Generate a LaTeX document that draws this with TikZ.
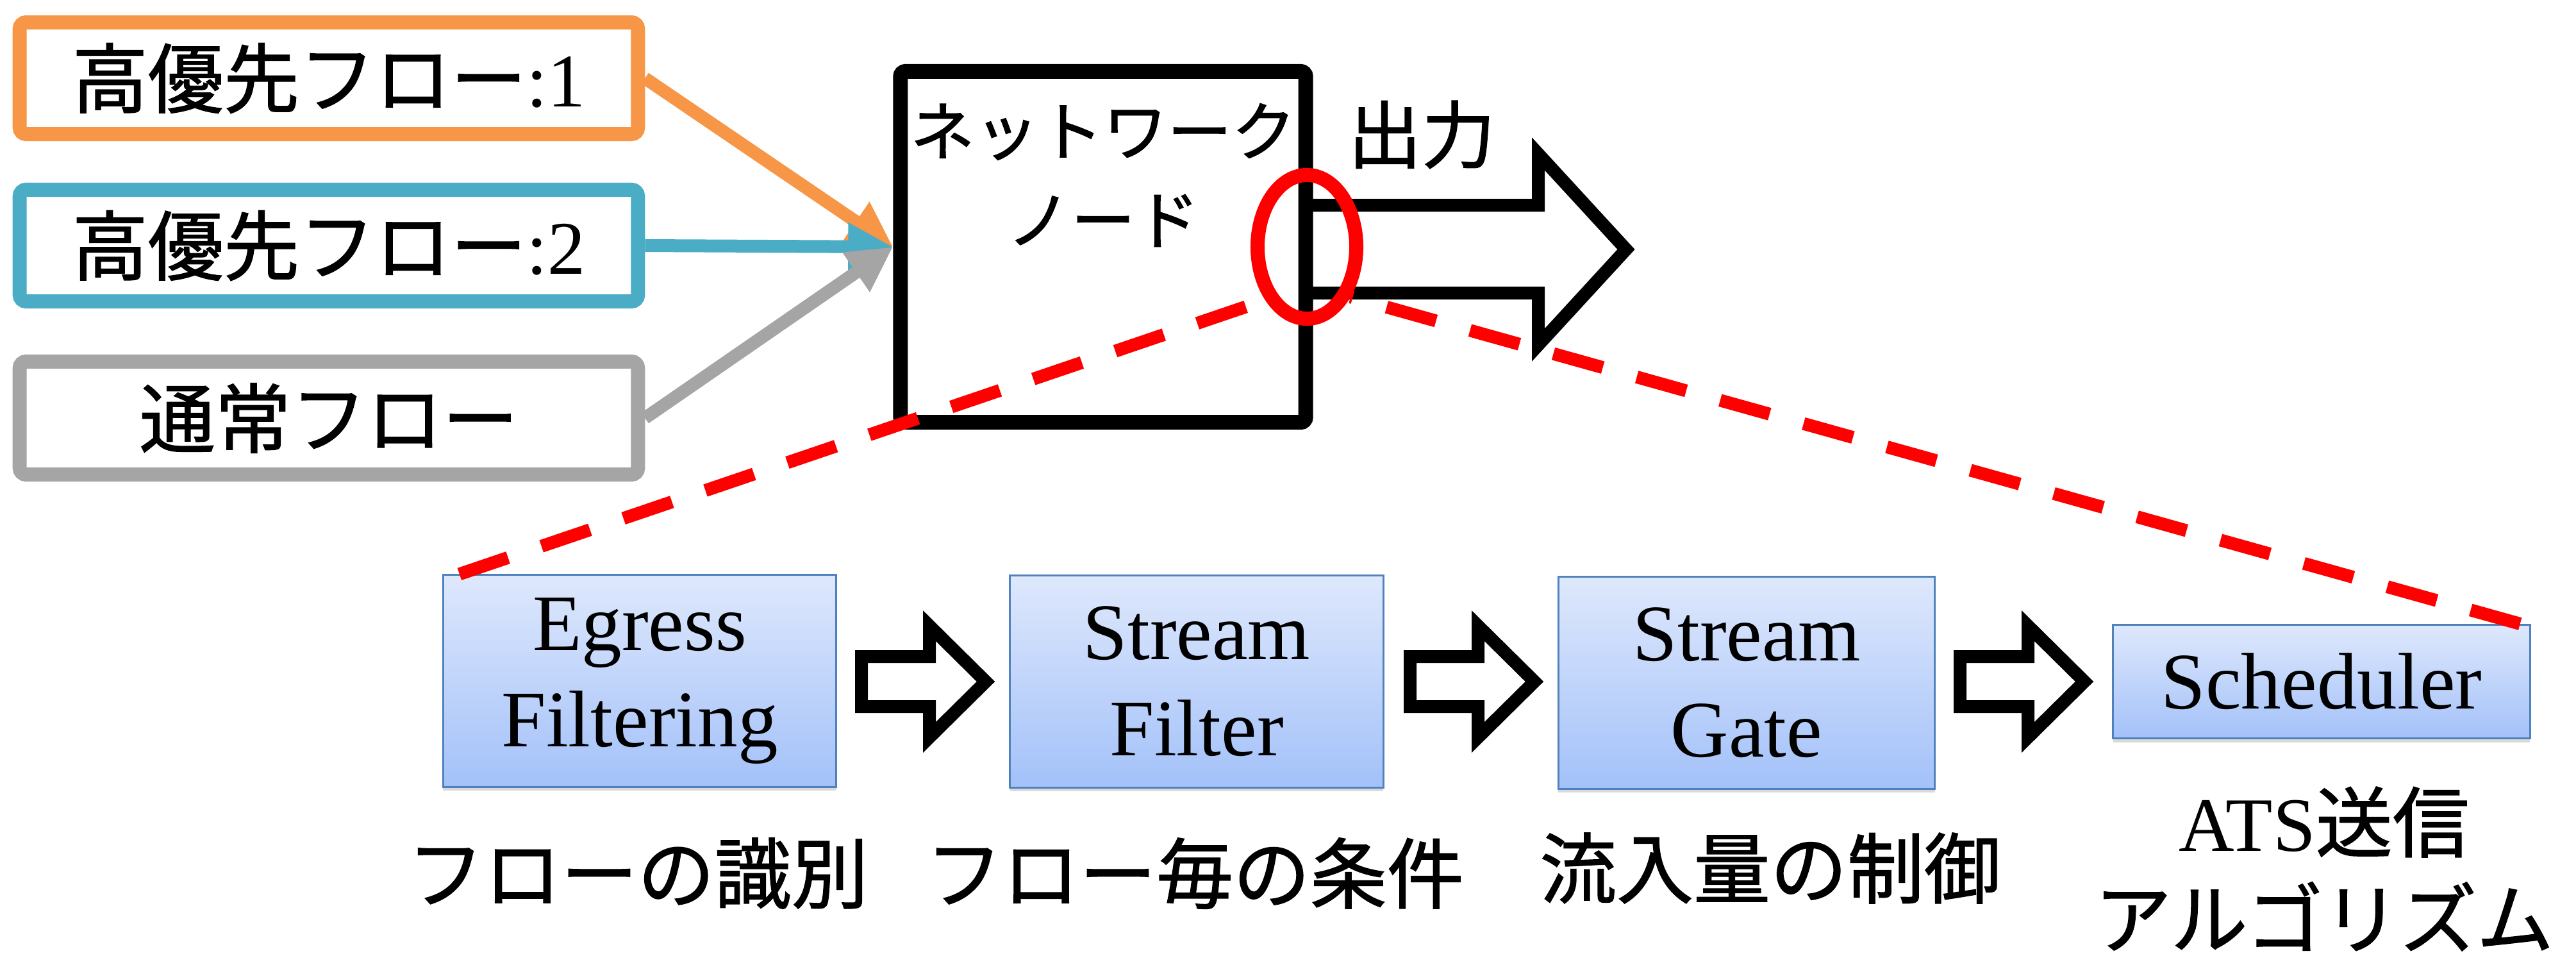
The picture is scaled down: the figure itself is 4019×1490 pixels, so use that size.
\documentclass[tikz,border=0pt]{standalone}
\usepackage{fontspec}
\setmainfont{Liberation Serif}
\newfontfamily\jp{Noto Sans CJK JP}[FakeBold=1.2]
\usetikzlibrary{arrows.meta,shapes.geometric,shadows}

\definecolor{floworange}{HTML}{F79646}
\definecolor{flowblue}{HTML}{4BACC6}
\definecolor{flowgray}{HTML}{A5A5A5}
\definecolor{stagetop}{RGB}{222,232,252}
\definecolor{stagebottom}{RGB}{163,193,249}
\definecolor{stageline}{RGB}{79,129,189}

\newcommand{\flowfont}{\jp\fontsize{33.6}{40}\selectfont}
\newcommand{\netfont}{\jp\fontsize{28.5}{39.3}\selectfont}
\newcommand{\outfont}{\jp\fontsize{32.7}{39}\selectfont}
\newcommand{\stagefont}{\fontsize{35.6}{42.7}\selectfont}
\newcommand{\capfont}{\jp\fontsize{34.1}{42.7}\selectfont}

\begin{document}
\begin{tikzpicture}[x=0.01cm, y=-0.01cm,
  flowbox/.style={draw, line width=0.22cm, rounded corners=0.1cm, minimum width=9.64cm, minimum height=1.74cm, inner sep=0pt, font=\flowfont},
  flowarrow/.style={line width=0.2cm, -{Triangle[length=0.7cm, width=0.7cm]}},
  stagebox/.style={draw=stageline, line width=0.03cm, top color=stagetop, bottom color=stagebottom, minimum height=3.3cm, inner sep=0pt, align=center, font=\stagefont, drop shadow={opacity=0.3, shadow xshift=0cm, shadow yshift=-0.06cm}},
  caption/.style={font=\capfont, align=center},
  hollow/.style={line width=0.2cm, line join=miter},
  zoomline/.style={red, line width=0.2cm, dash pattern=on 0.8cm off 0.55cm}]
\useasboundingbox (0,0) rectangle (4019,1490);

% flows
\node[flowbox, draw=floworange] (high1) at (513,122) {高優先フロー\textrm{:1}};
\node[flowbox, draw=flowblue] (high2) at (513,383) {高優先フロー\textrm{:2}};
\node[flowbox, draw=flowgray, minimum height=1.76cm] (normal) at (513,652) {通常フロー};

% network node
\node[draw, line width=0.23cm, rounded corners=0.08cm, minimum width=6.32cm, minimum height=5.47cm] (net) at (1721,385) {};
\node[font=\netfont, align=center] (netname) at (1721,273) {ネットワーク\\ノード};
\node[font=\outfont] (outlabel) at (2218,210) {出力};
\draw[hollow] (2037,320) -- (2400,320) -- (2400,240) -- (2537,389) -- (2400,538) -- (2400,457) -- (2037,457);

\draw[flowarrow, floworange] (high1.east) -- (net.west);
\draw[flowarrow, flowblue] (high2.east) -- (net.west);
\draw[flowarrow, flowgray] (normal.east) -- (net.west);

% stages
\node[stagebox, minimum width=6.13cm] (egress) at (998,1062) {Egress\\Filtering};
\node[stagebox, minimum width=5.82cm] (sfilter) at (1867,1063) {Stream\\Filter};
\node[stagebox, minimum width=5.87cm] (sgate) at (2725,1065) {Stream\\Gate};
\node[stagebox, minimum width=6.5cm, minimum height=1.77cm] (sched) at (3622,1063) {Scheduler};

\foreach \ax in {1344,2200,3058}
  \draw[hollow] (\ax,1024) -- (\ax+106,1024) -- (\ax+106,976) -- (\ax+194,1063) -- (\ax+106,1150) -- (\ax+106,1102) -- (\ax,1102) -- cycle;

\node[caption] (egresscap) at (995,1362) {フローの識別};
\node[caption] (sfiltercap) at (1864,1362) {フロー毎の条件};
\node[caption] (sgatecap) at (2762,1354) {流入量の制御};
\node[caption] (schedcap) at (3626,1355) {\textrm{ATS}送信\\アルゴリズム};

% zoom
\node[draw=red, ellipse, line width=0.22cm, minimum width=1.54cm, minimum height=2.24cm, inner sep=0pt] (zoomring) at (2039,385) {};
\draw[zoomline] ([xshift=0.27cm]egress.north west) -- (zoomring.232);
\draw[zoomline] ([xshift=-0.17cm]sched.north east) -- (zoomring.311);
\end{tikzpicture}
\end{document}
